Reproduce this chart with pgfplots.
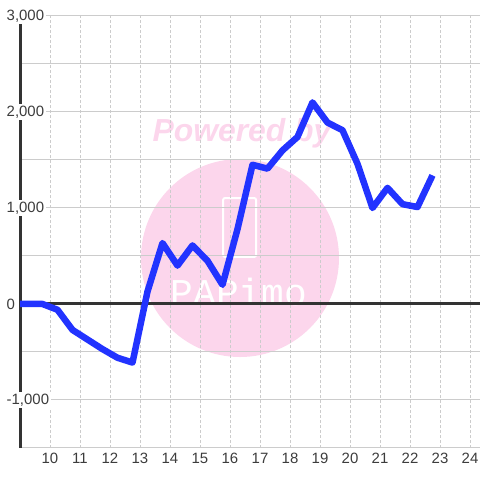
\documentclass[border=0pt]{standalone}
\usepackage{pgfplots}
\pgfplotsset{compat=1.18}
\usepackage{fontspec}
\setmainfont{Liberation Sans}
\newfontfamily\monofont{Liberation Mono}
\definecolor{linec}{RGB}{34,51,255}
\definecolor{wmpink}{RGB}{252,214,236}
\definecolor{axisdark}{RGB}{51,51,51}
\definecolor{gridc}{RGB}{204,204,204}
\definecolor{labc}{RGB}{60,60,60}

\begin{document}
\begin{tikzpicture}
\begin{axis}[
    set layers,
    at={(20bp,32bp)}, anchor=south west,
    scale only axis, width=460bp, height=432bp,
    xmin=9, xmax=24.3333,
    ymin=-1500, ymax=3000,
    axis y line*=left, axis x line*=bottom,
    axis line style={-},
    y axis line style={line width=3bp, draw=axisdark},
    x axis line style={draw=gridc, line width=1bp},
    xtick={10,...,24},
    ytick={-1000,0,1000,2000,3000},
    yticklabels={{-1,000},{0},{1,000},{2,000},{3,000}},
    minor ytick={-1500,-500,500,1500,2500},
    major tick length=0pt, minor tick length=0pt,
    xmajorgrids, ymajorgrids, yminorgrids,
    x grid style={draw=gridc, dash pattern=on 2.5bp off 2.5bp, line width=0.8bp},
    y grid style={draw=gridc, line width=1bp},
    minor y grid style={draw=gridc, line width=1bp},
    /pgf/number format/assume math mode=true,
    tick label style={font=\fontsize{15}{17}\selectfont, text=labc},
    yticklabel style={anchor=west, xshift=-15bp, fill=white, inner sep=1.5bp},
    xticklabel style={yshift=-2bp},
    clip=true,
]
\begin{pgfonlayer}{axis background}
  \fill[wmpink] (axis cs:16.333,479) circle[radius=99bp];
  \draw[white, line width=2bp, rounded corners=2bp]
     (axis cs:15.77,1104) rectangle (axis cs:16.87,490);
  \node[text=white, font=\monofont\fontsize{38}{40}\selectfont]
     at (axis cs:16.3,130) {PAPimo};
  \node[text=wmpink, font=\bfseries\itshape\fontsize{32}{34}\selectfont]
     at (axis cs:16.4,1781) {Powered by};
\end{pgfonlayer}
\draw[line width=3bp, axisdark] (axis cs:9,0) -- (axis cs:24.3333,0);
\addplot[linec, line width=6.5bp, line join=round] coordinates {
  (8.75,0) (9.25,0) (9.75,0) (10.25,-60) (10.75,-270) (11.25,-370)
  (11.75,-470) (12.25,-560) (12.75,-610) (13.25,130) (13.75,635)
  (14.25,400) (14.75,610) (15.25,450) (15.75,200) (16.25,780)
  (16.75,1450) (17.25,1410) (17.75,1600) (18.25,1740) (18.75,2100)
  (19.25,1890) (19.75,1810) (20.25,1460) (20.75,1000) (21.25,1210)
  (21.75,1040) (22.25,1010) (22.75,1340)
};
\end{axis}
\pgfresetboundingbox
\path[use as bounding box] (0bp,0bp) rectangle (480bp,480bp);
\end{tikzpicture}
\end{document}
